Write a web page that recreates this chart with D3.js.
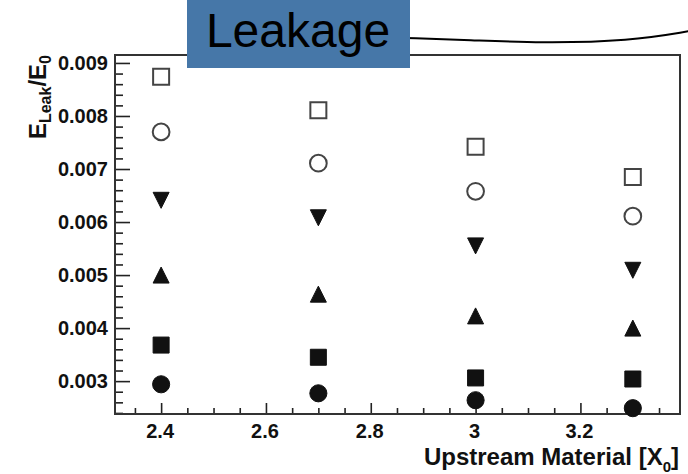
<!DOCTYPE html>
<html>
<head>
<meta charset="utf-8">
<script src="https://cdn.jsdelivr.net/npm/d3@7"></script>
<style>
  body { margin: 0; background: #fff; }
  text { font-family: "Liberation Sans", Arial, sans-serif; }
</style>
</head>
<body>
<div id="chart"></div>
<script>
// upstream material values (X0) where each set was measured
var material = [2.4, 2.7, 3.0, 3.3];

// leakage fraction E_Leak/E_0, one array per marker style
var openSquare   = [0.00874, 0.00811, 0.00742, 0.00685];
var openCircle   = [0.00770, 0.00711, 0.00658, 0.00611];
var downTriangle = [0.00641, 0.00608, 0.00555, 0.00509];
var upTriangle   = [0.00500, 0.00464, 0.00423, 0.00400];
var fullSquare   = [0.00368, 0.00345, 0.00306, 0.00304];
var fullCircle   = [0.00294, 0.00277, 0.00264, 0.00249];

var xTicks = [2.4, 2.6, 2.8, 3.0, 3.2];
var yTicks = [0.003, 0.004, 0.005, 0.006, 0.007, 0.008, 0.009];

var width = 688, height = 474;
var frame = {left: 115, right: 680, top: 55, bottom: 414};

var svg = d3.select("#chart").append("svg")
    .attr("width", width)
    .attr("height", height);

var x = d3.scaleLinear().domain([2.312, 3.39]).range([frame.left, frame.right]);
var y = d3.scaleLinear().domain([0.00238, 0.00915]).range([frame.bottom, frame.top]);

// minor ticks: x every 0.05, y every 0.0002
var xMinor = d3.range(2.35, 3.39, 0.05).filter(function (d) {
    return Math.abs(Math.round(d * 5) - d * 5) > 1e-6;
});
var yMinor = d3.range(0.0024, 0.00915, 0.0002).filter(function (d) {
    return Math.abs(Math.round(d * 1000) - d * 1000) > 1e-6;
});

var axisColor = "#222";

// x axis (ticks point up into the frame)
var xAxis = svg.append("g")
    .attr("transform", "translate(0," + frame.bottom + ")");
xAxis.call(d3.axisTop(x).tickValues(xMinor).tickSize(6).tickFormat(""));
xAxis.append("g").call(d3.axisTop(x).tickValues(xTicks).tickSize(11).tickFormat(""));
xAxis.selectAll(".domain").remove();
xAxis.selectAll("line").attr("stroke", axisColor).attr("stroke-width", 1.6);

svg.append("g").selectAll("text")
    .data(xTicks)
    .enter().append("text")
    .attr("x", function (d) { return x(d) - 1; })
    .attr("y", 438)
    .attr("text-anchor", "middle")
    .attr("font-size", 20)
    .attr("font-weight", "bold")
    .attr("fill", "#111")
    .text(function (d) { return d3.format("~g")(d); });

// y axis (ticks point right into the frame)
var yAxis = svg.append("g")
    .attr("transform", "translate(" + frame.left + ",0)");
yAxis.call(d3.axisRight(y).tickValues(yMinor).tickSize(8).tickFormat(""));
yAxis.append("g").call(d3.axisRight(y).tickValues(yTicks).tickSize(15).tickFormat(""));
yAxis.selectAll(".domain").remove();
yAxis.selectAll("line").attr("stroke", axisColor).attr("stroke-width", 1.6);

svg.append("g").selectAll("text")
    .data(yTicks)
    .enter().append("text")
    .attr("x", 108)
    .attr("y", function (d) { return y(d) + 7; })
    .attr("text-anchor", "end")
    .attr("font-size", 20)
    .attr("font-weight", "bold")
    .attr("fill", "#111")
    .text(function (d) { return d3.format(".3f")(d); });

// frame
svg.append("rect")
    .attr("x", frame.left)
    .attr("y", frame.top)
    .attr("width", frame.right - frame.left)
    .attr("height", frame.bottom - frame.top)
    .attr("fill", "none")
    .attr("stroke", "#333")
    .attr("stroke-width", 2);

// marker shapes
var triUp = {
    draw: function (ctx, size) {
        var s = Math.sqrt(size);
        ctx.moveTo(0, -s / 2);
        ctx.lineTo(s / 2, s / 2);
        ctx.lineTo(-s / 2, s / 2);
        ctx.closePath();
    }
};
var triDown = {
    draw: function (ctx, size) {
        var s = Math.sqrt(size);
        ctx.moveTo(0, s / 2);
        ctx.lineTo(s / 2, -s / 2);
        ctx.lineTo(-s / 2, -s / 2);
        ctx.closePath();
    }
};

var series = [
    {values: openSquare,   type: d3.symbolSquare, size: 256, fill: "#fff", stroke: "#444", sw: 2},
    {values: openCircle,   type: d3.symbolCircle, size: 220, fill: "#fff", stroke: "#444", sw: 2},
    {values: downTriangle, type: triDown,         size: 256, fill: "#111", stroke: "#111", sw: 1},
    {values: upTriangle,   type: triUp,           size: 256, fill: "#111", stroke: "#111", sw: 1},
    {values: fullSquare,   type: d3.symbolSquare, size: 256, fill: "#111", stroke: "#111", sw: 1},
    {values: fullCircle,   type: d3.symbolCircle, size: 230, fill: "#111", stroke: "#111", sw: 1}
];

series.forEach(function (s) {
    svg.append("g").selectAll("path")
        .data(s.values)
        .enter().append("path")
        .attr("transform", function (d, i) {
            return "translate(" + x(material[i]) + "," + y(d) + ")";
        })
        .attr("d", d3.symbol().type(s.type).size(s.size))
        .attr("fill", s.fill)
        .attr("stroke", s.stroke)
        .attr("stroke-width", s.sw);
});

// axis titles
var yTitle = svg.append("text")
    .attr("transform", "translate(46,55) rotate(-90)")
    .attr("text-anchor", "end")
    .attr("font-size", 24)
    .attr("font-weight", "bold")
    .attr("fill", "#111");
yTitle.append("tspan").text("E");
yTitle.append("tspan").attr("font-size", 16).attr("dy", 5).text("Leak");
yTitle.append("tspan").attr("dy", -5).text("/E");
yTitle.append("tspan").attr("font-size", 16).attr("dy", 5).text("0");

var xTitle = svg.append("text")
    .attr("x", 679)
    .attr("y", 465)
    .attr("text-anchor", "end")
    .attr("font-size", 24)
    .attr("font-weight", "bold")
    .attr("fill", "#111");
xTitle.append("tspan").text("Upstream Material [X");
xTitle.append("tspan").attr("font-size", 15).attr("dy", 7).text("0");
xTitle.append("tspan").attr("dy", -7).text("]");

// slide title box with the connector curve
svg.append("path")
    .attr("d", d3.line().curve(d3.curveBasis)([[405, 38], [470, 40], [540, 43], [630, 41], [690, 31]]))
    .attr("fill", "none")
    .attr("stroke", "#000")
    .attr("stroke-width", 2);

svg.append("rect")
    .attr("x", 187)
    .attr("y", 0)
    .attr("width", 223)
    .attr("height", 68)
    .attr("fill", "#4677a8");

svg.append("text")
    .attr("x", 298)
    .attr("y", 47)
    .attr("text-anchor", "middle")
    .attr("font-size", 48)
    .attr("fill", "#000")
    .text("Leakage");
</script>
</body>
</html>
